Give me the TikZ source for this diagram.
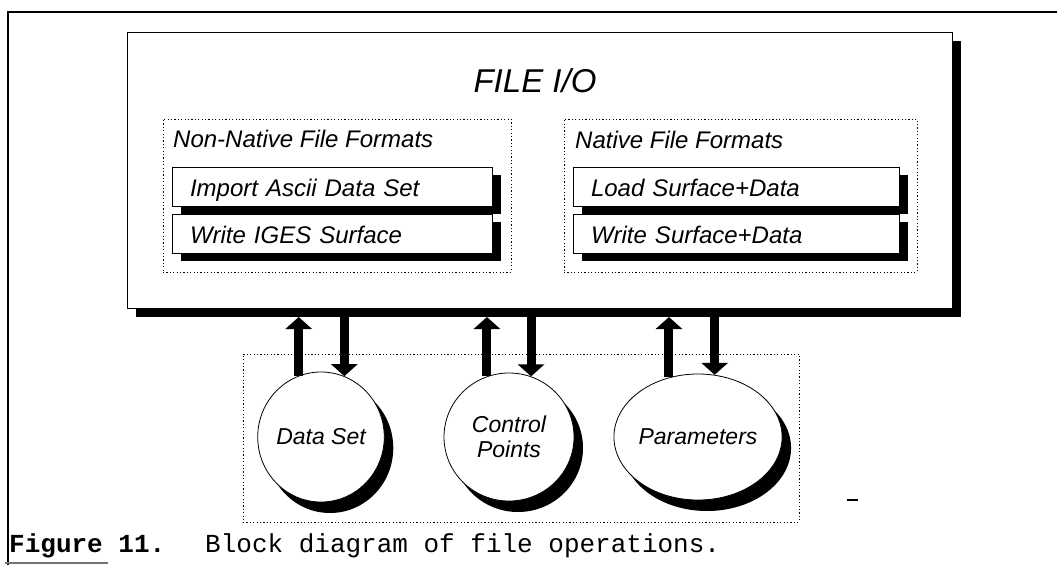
\documentclass[tikz,border=0pt]{standalone}
\usepackage{fontspec}
\setmainfont{Liberation Sans}
\newfontfamily\courfont{Liberation Mono}
\usetikzlibrary{arrows.meta,shapes.geometric,shadows}
\tikzset{
  thinbox/.style={draw=black, line width=0.9pt, fill=white, rectangle, inner sep=0pt},
  dotbox/.style={draw=black, line width=0.9pt, dash pattern=on 1.2pt off 2.2pt, rectangle, inner sep=0pt},
  subbox/.style={thinbox, minimum height=39pt, text width=#1, align=left, inner xsep=18pt,
     text height=20pt, text depth=1pt, font=\itshape\fontsize{24}{28}\selectfont,
     drop shadow={shadow xshift=9pt, shadow yshift=-8pt, fill=black, opacity=1}},
  blob/.style={ellipse, draw=black, line width=0.8pt, fill=white, inner sep=0pt, align=center,
     font=\itshape\fontsize{23}{25}\selectfont,
     drop shadow={shadow xshift=9pt, shadow yshift=-11pt, fill=black, opacity=1}},
  heading/.style={anchor=base west, inner sep=0pt, font=\itshape\fontsize{24}{28}\selectfont},
  bigarrow/.style={line width=9pt, -{Triangle[width=26pt,length=12pt]}},
  captext/.style={anchor=base west, inner sep=0pt, font=\courfont\fontsize{26}{30}\selectfont}
}
\begin{document}
\begin{tikzpicture}[x=1pt,y=-1pt]
\useasboundingbox (0,0) rectangle (1057,565);
\fill[white] (0,0) rectangle (1057,565);

% outer frame
\draw[line width=2pt] (1057,12) -- (8,12) -- (8,565);
\draw[line width=1.5pt, black!55] (5,563) -- (108,563);

% main FILE I/O box
\node[thinbox, minimum width=825pt, minimum height=276pt,
      drop shadow={shadow xshift=9pt, shadow yshift=-9pt, fill=black, opacity=1}]
      (fileio) at (539.5,170) {};
\coordinate (barbot) at (0,317);
\node[anchor=base, inner sep=0pt, font=\itshape\fontsize{33}{36}\selectfont] (title) at (535,92) {FILE I/O};

% dotted groups
\node[dotbox, minimum width=348pt, minimum height=153pt] (nonnative) at (337,195.5) {};
\node[dotbox, minimum width=353pt, minimum height=153pt] (native) at (740.5,195.5) {};
\node[heading] (nnhead) at (173,147) {Non-Native File Formats};
\node[heading] (nhead) at (575,148) {Native File Formats};

% sub boxes
\node[subbox=284pt] (imp) at (332,186.5) {Import Ascii Data Set};
\node[subbox=284pt] (iges) at (332,233.5) {Write IGES Surface};
\node[subbox=290pt] (load) at (736,186.5) {Load Surface+Data};
\node[subbox=290pt] (wsd) at (736,233.5) {Write Surface+Data};

% lower dotted group
\node[dotbox, minimum width=556pt, minimum height=168pt] (mem) at (521,438) {};

% circles
\node[blob, minimum width=124pt, minimum height=130pt] (ds) at (321,437) {Data Set};
\node[blob, minimum width=130pt, minimum height=128pt] (cp) at (509,437) {Control\\Points};
\node[blob, minimum width=140pt, minimum height=126pt] (pa) at (698,437) {Parameters};

% arrows
\draw[bigarrow] (ds.110) -- (ds.110 |- barbot);
\draw[bigarrow] (ds.69 |- barbot) -- (ds.69);
\draw[bigarrow] (cp.110) -- (cp.110 |- barbot);
\draw[bigarrow] (cp.70 |- barbot) -- (cp.70);
\draw[bigarrow] (pa.116) -- (pa.116 |- barbot);
\draw[bigarrow] (pa.75 |- barbot) -- (pa.75);

% small dash
\draw[line width=1.3pt] (847,500) -- (858,500);

% caption
\node[captext, font=\courfont\bfseries\fontsize{26}{30}\selectfont] (fig) at (9,552) {Figure 11.};
\node[captext] (cap) at (205,552) {Block diagram of file operations.};
\end{tikzpicture}
\end{document}
